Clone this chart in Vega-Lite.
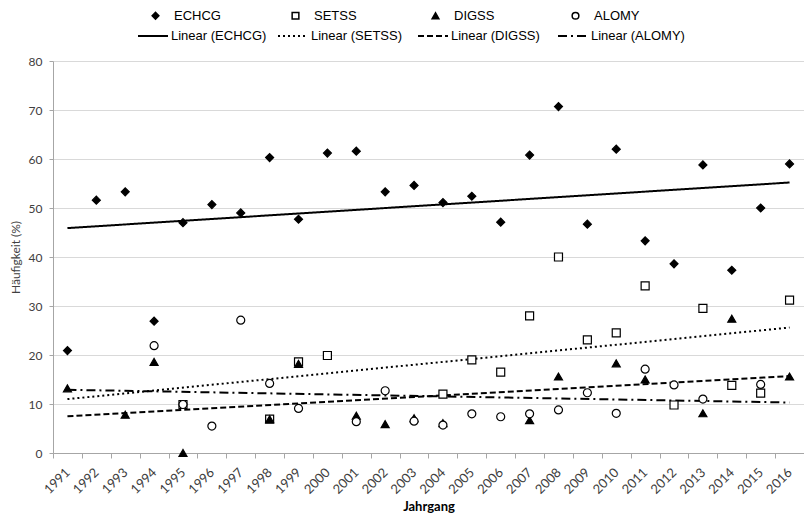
{
  "$schema": "https://vega.github.io/schema/vega-lite/v6.json",
  "width": 751,
  "height": 392,
  "autosize": {"type": "none"},
  "padding": {"left": 53, "top": 61, "right": 0, "bottom": 68},
  "background": "white",
  "datasets": {
    "points": [
      {"year": 1991, "series": "ECHCG", "value": 20.9},
      {"year": 1992, "series": "ECHCG", "value": 51.6},
      {"year": 1993, "series": "ECHCG", "value": 53.3},
      {"year": 1994, "series": "ECHCG", "value": 26.9},
      {"year": 1995, "series": "ECHCG", "value": 47.0},
      {"year": 1996, "series": "ECHCG", "value": 50.7},
      {"year": 1997, "series": "ECHCG", "value": 49.0},
      {"year": 1998, "series": "ECHCG", "value": 60.3},
      {"year": 1999, "series": "ECHCG", "value": 47.7},
      {"year": 2000, "series": "ECHCG", "value": 61.2},
      {"year": 2001, "series": "ECHCG", "value": 61.6},
      {"year": 2002, "series": "ECHCG", "value": 53.3},
      {"year": 2003, "series": "ECHCG", "value": 54.6},
      {"year": 2004, "series": "ECHCG", "value": 51.1},
      {"year": 2005, "series": "ECHCG", "value": 52.4},
      {"year": 2006, "series": "ECHCG", "value": 47.1},
      {"year": 2007, "series": "ECHCG", "value": 60.8},
      {"year": 2008, "series": "ECHCG", "value": 70.7},
      {"year": 2009, "series": "ECHCG", "value": 46.7},
      {"year": 2010, "series": "ECHCG", "value": 62.0},
      {"year": 2011, "series": "ECHCG", "value": 43.3},
      {"year": 2012, "series": "ECHCG", "value": 38.6},
      {"year": 2013, "series": "ECHCG", "value": 58.8},
      {"year": 2014, "series": "ECHCG", "value": 37.3},
      {"year": 2015, "series": "ECHCG", "value": 50.0},
      {"year": 2016, "series": "ECHCG", "value": 59.0},
      {"year": 1995, "series": "SETSS", "value": 9.9},
      {"year": 1998, "series": "SETSS", "value": 6.9},
      {"year": 1999, "series": "SETSS", "value": 18.6},
      {"year": 2000, "series": "SETSS", "value": 19.9},
      {"year": 2004, "series": "SETSS", "value": 12.0},
      {"year": 2005, "series": "SETSS", "value": 19.0},
      {"year": 2006, "series": "SETSS", "value": 16.5},
      {"year": 2007, "series": "SETSS", "value": 28.0},
      {"year": 2008, "series": "SETSS", "value": 40.0},
      {"year": 2009, "series": "SETSS", "value": 23.1},
      {"year": 2010, "series": "SETSS", "value": 24.5},
      {"year": 2011, "series": "SETSS", "value": 34.1},
      {"year": 2012, "series": "SETSS", "value": 9.8},
      {"year": 2013, "series": "SETSS", "value": 29.5},
      {"year": 2014, "series": "SETSS", "value": 13.8},
      {"year": 2015, "series": "SETSS", "value": 12.2},
      {"year": 2016, "series": "SETSS", "value": 31.2},
      {"year": 1991, "series": "DIGSS", "value": 13.2},
      {"year": 1993, "series": "DIGSS", "value": 7.8},
      {"year": 1994, "series": "DIGSS", "value": 18.6},
      {"year": 1995, "series": "DIGSS", "value": 0.0},
      {"year": 1998, "series": "DIGSS", "value": 6.9},
      {"year": 1999, "series": "DIGSS", "value": 18.2},
      {"year": 2001, "series": "DIGSS", "value": 7.6},
      {"year": 2002, "series": "DIGSS", "value": 5.9},
      {"year": 2003, "series": "DIGSS", "value": 7.1},
      {"year": 2004, "series": "DIGSS", "value": 6.1},
      {"year": 2007, "series": "DIGSS", "value": 6.7},
      {"year": 2008, "series": "DIGSS", "value": 15.6},
      {"year": 2010, "series": "DIGSS", "value": 18.3},
      {"year": 2011, "series": "DIGSS", "value": 15.0},
      {"year": 2013, "series": "DIGSS", "value": 8.1},
      {"year": 2014, "series": "DIGSS", "value": 27.4},
      {"year": 2016, "series": "DIGSS", "value": 15.6},
      {"year": 1994, "series": "ALOMY", "value": 21.9},
      {"year": 1995, "series": "ALOMY", "value": 9.9},
      {"year": 1996, "series": "ALOMY", "value": 5.5},
      {"year": 1997, "series": "ALOMY", "value": 27.1},
      {"year": 1998, "series": "ALOMY", "value": 14.2},
      {"year": 1999, "series": "ALOMY", "value": 9.1},
      {"year": 2001, "series": "ALOMY", "value": 6.4},
      {"year": 2002, "series": "ALOMY", "value": 12.7},
      {"year": 2003, "series": "ALOMY", "value": 6.5},
      {"year": 2004, "series": "ALOMY", "value": 5.7},
      {"year": 2005, "series": "ALOMY", "value": 8.0},
      {"year": 2006, "series": "ALOMY", "value": 7.4},
      {"year": 2007, "series": "ALOMY", "value": 8.0},
      {"year": 2008, "series": "ALOMY", "value": 8.8},
      {"year": 2009, "series": "ALOMY", "value": 12.3},
      {"year": 2010, "series": "ALOMY", "value": 8.1},
      {"year": 2011, "series": "ALOMY", "value": 17.1},
      {"year": 2012, "series": "ALOMY", "value": 13.9},
      {"year": 2013, "series": "ALOMY", "value": 11.0},
      {"year": 2015, "series": "ALOMY", "value": 14.0}
    ],
    "trends": [
      {"year": 1991, "trend": "Linear (ECHCG)", "value": 45.9},
      {"year": 2016, "trend": "Linear (ECHCG)", "value": 55.2},
      {"year": 1991, "trend": "Linear (SETSS)", "value": 11.0},
      {"year": 2016, "trend": "Linear (SETSS)", "value": 25.6},
      {"year": 1991, "trend": "Linear (DIGSS)", "value": 7.5},
      {"year": 2016, "trend": "Linear (DIGSS)", "value": 15.7},
      {"year": 1991, "trend": "Linear (ALOMY)", "value": 12.9},
      {"year": 2016, "trend": "Linear (ALOMY)", "value": 10.3}
    ]
  },
  "config": {
    "view": {"stroke": null},
    "axis": {
      "labelFont": "Lato",
      "labelFontSize": 12,
      "labelColor": "#404040",
      "titleFont": "Lato",
      "titleColor": "#404040",
      "domainColor": "#a6a6a6",
      "tickColor": "#a6a6a6",
      "gridColor": "#d9d9d9"
    },
    "legend": {
      "labelFont": "Liberation Sans",
      "labelFontSize": 13,
      "labelColor": "black",
      "padding": 0
    }
  },
  "encoding": {
    "x": {
      "field": "year",
      "type": "ordinal",
      "scale": {"type": "band", "paddingInner": 0, "paddingOuter": 0,
        "domain": [1991,1992,1993,1994,1995,1996,1997,1998,1999,2000,2001,2002,2003,2004,2005,2006,2007,2008,2009,2010,2011,2012,2013,2014,2015,2016]},
      "axis": {
        "title": "Jahrgang",
        "titleFontWeight": "bold",
        "titleFontSize": 13,
        "titleColor": "black",
        "titlePadding": 4,
        "labelAngle": -45,
        "labelAlign": "right",
        "labelBaseline": "middle",
        "labelPadding": 12,
        "labelFontSize": 13,
        "tickBand": "extent",
        "tickSize": 5,
        "grid": false
      }
    },
    "y": {
      "field": "value",
      "type": "quantitative",
      "scale": {"domain": [0, 80], "nice": false},
      "axis": {
        "title": "Häufigkeit (%)",
        "titleFontWeight": "normal",
        "titleFontSize": 12,
        "titlePadding": 6,
        "values": [0,10,20,30,40,50,60,70,80],
        "tickSize": 4,
        "labelPadding": 7,
        "grid": true
      }
    }
  },
  "layer": [
    {
      "data": {"name": "trends"},
      "mark": {"type": "line", "color": "black", "strokeWidth": 2},
      "encoding": {
        "detail": {"field": "trend"},
        "strokeDash": {
          "field": "trend",
          "type": "nominal",
          "scale": {
            "domain": ["Linear (ECHCG)", "Linear (SETSS)", "Linear (DIGSS)", "Linear (ALOMY)"],
            "range": [[1, 0], [2, 3], [6, 3], [9, 4, 2, 4]]
          },
          "legend": {
            "title": null,
            "orient": "none",
            "direction": "horizontal",
            "columns": 4,
            "gridAlign": "all",
            "columnPadding": 7,
            "legendX": 84,
            "legendY": -41,
            "symbolType": "stroke",
            "symbolSize": 900,
            "symbolStrokeWidth": 2,
            "symbolStrokeColor": "black",
            "labelOffset": 2
          }
        }
      }
    },
    {
      "data": {"name": "points"},
      "mark": {"type": "point", "filled": true, "stroke": "black", "strokeWidth": 1.2, "opacity": 1, "size": 64},
      "encoding": {
        "shape": {
          "field": "series",
          "type": "nominal",
          "scale": {"domain": ["ECHCG", "SETSS", "DIGSS", "ALOMY"], "range": ["diamond", "square", "triangle-up", "circle"]},
          "legend": {
            "title": null,
            "orient": "none",
            "direction": "horizontal",
            "columns": 4,
            "gridAlign": "all",
            "columnPadding": 68,
            "legendX": 96,
            "legendY": -52,
            "labelOffset": 12,
            "symbolSize": 45,
            "encode": {"symbols": {"update": {"stroke": {"value": "black"}, "strokeWidth": {"value": 1.1}, "size": {"value": 45}}}}
          }
        },
        "fill": {
          "field": "series",
          "type": "nominal",
          "scale": {"domain": ["ECHCG", "SETSS", "DIGSS", "ALOMY"], "range": ["black", "white", "black", "white"]},
          "legend": {
            "title": null,
            "orient": "none",
            "direction": "horizontal",
            "columns": 4,
            "gridAlign": "all",
            "columnPadding": 68,
            "legendX": 96,
            "legendY": -52,
            "labelOffset": 12,
            "symbolSize": 45,
            "encode": {"symbols": {"update": {"stroke": {"value": "black"}, "strokeWidth": {"value": 1.1}, "size": {"value": 45}}}}
          }
        }
      }
    }
  ]
}
